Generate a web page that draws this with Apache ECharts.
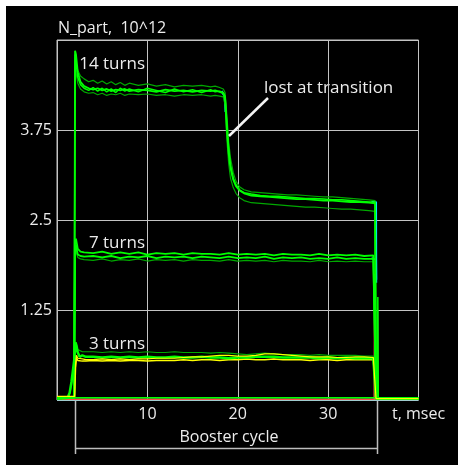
<!DOCTYPE html>
<html>
<head>
<meta charset="utf-8">
<script src="https://cdn.jsdelivr.net/npm/echarts@6/dist/echarts.min.js"></script>
<style>
  html, body { margin: 0; padding: 0; background: #ffffff; }
  #chart { position: absolute; left: 6px; top: 6px; width: 452px; height: 459px; }
</style>
</head>
<body>
<div id="chart"></div>
<script>
// Beam intensity during the Booster cycle, N_part in units of 10^12, time in msec

const xTicks = [10, 20, 30];
const yTicks = [1.25, 2.5, 3.75];

// 14-turn injection: time base and four recorded traces
const t14 = [0, 1.9, 2.0, 2.1, 2.3, 2.6, 3.0, 3.5, 4.0, 4.5, 5.0, 5.5, 6.0, 6.5, 7.0, 7.5, 8.0, 9.0, 10, 11,
  12, 13, 14, 15, 16, 17, 17.5, 18, 18.4, 18.6, 18.8, 19.0, 19.2, 19.5, 19.8, 20.2, 20.7, 21.5, 22.5, 23.5,
  24.5, 25.5, 26.5, 27.5, 28.5, 29.5, 30.5, 31.5, 32.5, 33.5, 34.5, 35.2, 35.3, 40];
const n14a = [0.02, 0.03, 4.85, 4.80, 4.55, 4.42, 4.36, 4.33, 4.31, 4.33, 4.30, 4.32, 4.29, 4.31, 4.30, 4.32, 4.29, 4.31, 4.30, 4.28,
  4.31, 4.29, 4.30, 4.28, 4.30, 4.29, 4.30, 4.28, 4.26, 4.18, 3.75, 3.42, 3.22, 3.06, 2.97, 2.91, 2.87, 2.84, 2.83, 2.82,
  2.81, 2.80, 2.79, 2.79, 2.78, 2.77, 2.77, 2.76, 2.75, 2.75, 2.74, 2.73, 0.02, 0.02];
const n14b = [0.02, 0.03, 4.72, 4.68, 4.58, 4.50, 4.46, 4.42, 4.44, 4.40, 4.43, 4.39, 4.42, 4.38, 4.41, 4.37, 4.40, 4.37, 4.39, 4.36,
  4.38, 4.35, 4.37, 4.36, 4.37, 4.35, 4.36, 4.34, 4.32, 4.27, 3.95, 3.58, 3.36, 3.16, 3.04, 2.96, 2.92, 2.89, 2.88, 2.87,
  2.86, 2.85, 2.85, 2.84, 2.83, 2.82, 2.82, 2.81, 2.80, 2.79, 2.78, 2.77, 0.02, 0.02];
const n14c = [0.02, 0.03, 4.62, 4.55, 4.40, 4.32, 4.28, 4.26, 4.27, 4.24, 4.26, 4.23, 4.25, 4.24, 4.26, 4.23, 4.25, 4.24, 4.25, 4.23,
  4.24, 4.22, 4.24, 4.23, 4.24, 4.22, 4.23, 4.22, 4.21, 4.10, 3.62, 3.28, 3.08, 2.95, 2.87, 2.81, 2.77, 2.74, 2.73, 2.72,
  2.71, 2.70, 2.69, 2.68, 2.68, 2.67, 2.66, 2.65, 2.65, 2.64, 2.63, 2.62, 0.02, 0.02];
const n14d = [0.02, 0.03, 4.80, 4.70, 4.48, 4.38, 4.33, 4.30, 4.34, 4.29, 4.33, 4.28, 4.32, 4.27, 4.33, 4.29, 4.32, 4.28, 4.33, 4.30,
  4.27, 4.32, 4.28, 4.31, 4.27, 4.31, 4.28, 4.29, 4.27, 4.22, 3.85, 3.48, 3.26, 3.08, 2.99, 2.92, 2.88, 2.86, 2.84, 2.83,
  2.83, 2.82, 2.81, 2.80, 2.80, 2.79, 2.78, 2.78, 2.77, 2.76, 2.75, 2.75, 0.02, 0.02];

// 7-turn injection
const t7 = [0, 1.9, 2.0, 2.1, 2.3, 2.6, 3, 4, 5, 6, 7, 8, 9, 10, 11, 12, 13, 14, 15, 16,
  17, 18, 19, 20, 21, 22, 23, 24, 25, 26, 27, 28, 29, 30, 31, 32, 33, 34, 35, 35.3, 40];
const n7a = [0.02, 0.03, 2.20, 2.24, 2.10, 2.06, 2.05, 2.04, 2.06, 2.03, 2.05, 2.03, 2.05, 2.02, 2.04, 2.03, 2.04, 2.02, 2.04, 2.03,
  2.03, 2.02, 2.04, 2.02, 2.03, 2.02, 2.03, 2.01, 2.03, 2.02, 2.02, 2.01, 2.03, 2.01, 2.02, 2.01, 2.02, 2.00, 2.01, 0.02, 0.02];
const n7b = [0.02, 0.03, 2.05, 2.15, 2.02, 2.00, 1.99, 2.00, 1.98, 2.00, 1.97, 1.99, 1.98, 2.00, 1.97, 1.99, 1.98, 1.99, 1.97, 1.99,
  1.98, 1.97, 1.99, 1.97, 1.98, 1.97, 1.99, 1.96, 1.98, 1.97, 1.98, 1.96, 1.97, 1.96, 1.98, 1.96, 1.97, 1.96, 1.96, 0.02, 0.02];
const n7c = [0.02, 0.03, 1.95, 2.08, 1.98, 1.96, 1.95, 1.94, 1.96, 1.93, 1.95, 1.94, 1.96, 1.93, 1.95, 1.94, 1.95, 1.93, 1.95, 1.94,
  1.94, 1.93, 1.95, 1.93, 1.94, 1.93, 1.94, 1.92, 1.94, 1.93, 1.93, 1.92, 1.94, 1.92, 1.93, 1.92, 1.93, 1.92, 1.92, 0.02, 0.02];

// 3-turn injection
const t3 = [0, 1.2, 1.4, 1.6, 1.8, 1.95, 2.05, 2.15, 2.3, 2.5, 2.8, 3.2, 4, 5, 6, 7, 8, 9, 10, 11,
  12, 13, 14, 15, 16, 17, 18, 19, 20, 21, 22, 23, 24, 25, 26, 27, 28, 29, 30, 31, 32, 33, 34, 35, 35.3, 40];
const n3a = [0.03, 0.04, 0.10, 0.25, 0.45, 0.60, 0.80, 0.76, 0.66, 0.60, 0.62, 0.60, 0.60, 0.59, 0.60, 0.59, 0.60, 0.59, 0.60, 0.59,
  0.59, 0.60, 0.59, 0.59, 0.60, 0.59, 0.59, 0.58, 0.59, 0.59, 0.60, 0.60, 0.60, 0.59, 0.59, 0.59, 0.59, 0.58, 0.59, 0.58,
  0.59, 0.58, 0.58, 0.58, 0.02, 0.02];
const n3b = [0.03, 0.04, 0.08, 0.20, 0.40, 0.55, 0.72, 0.74, 0.70, 0.68, 0.67, 0.67, 0.67, 0.66, 0.67, 0.66, 0.67, 0.66, 0.67, 0.66,
  0.66, 0.67, 0.66, 0.66, 0.66, 0.65, 0.66, 0.65, 0.64, 0.63, 0.64, 0.65, 0.64, 0.63, 0.63, 0.63, 0.62, 0.63, 0.62, 0.62,
  0.62, 0.62, 0.61, 0.61, 0.02, 0.02];
const n3c = [0.05, 0.05, 0.05, 0.05, 0.05, 0.05, 0.50, 0.62, 0.58, 0.56, 0.57, 0.56, 0.56, 0.57, 0.56, 0.57, 0.56, 0.57, 0.57, 0.58,
  0.58, 0.58, 0.59, 0.60, 0.60, 0.61, 0.62, 0.62, 0.61, 0.61, 0.62, 0.64, 0.64, 0.63, 0.62, 0.61, 0.60, 0.60, 0.60, 0.59,
  0.59, 0.60, 0.60, 0.59, 0.02, 0.02];
const n3d = [0.04, 0.04, 0.04, 0.04, 0.04, 0.04, 0.45, 0.58, 0.55, 0.54, 0.54, 0.54, 0.55, 0.54, 0.55, 0.54, 0.55, 0.55, 0.54, 0.55,
  0.55, 0.55, 0.56, 0.55, 0.56, 0.56, 0.55, 0.56, 0.56, 0.57, 0.56, 0.56, 0.57, 0.56, 0.56, 0.56, 0.55, 0.56, 0.56, 0.55,
  0.56, 0.56, 0.56, 0.56, 0.02, 0.02];

// Zero-level traces and the extraction kicks at the end of the cycle
const tBase = [0, 2.0, 35.1, 35.15, 35.2, 35.45, 35.5, 35.55, 40];
const nBaseGreen = [0.03, 0.03, 0.03, 0.03, 0.03, 0.03, 1.43, 0.03, 0.03];
const nBaseRed = [0.012, 0.012, 0.012, 1.75, 0.012, 0.012, 0.012, 0.012, 0.012];
const nBaseCyan = [0.008, 0.008, 0.008, 0.008, 0.008, 0.008, 0.008, 0.008, 0.008];

// Short cyan segments at the transition and at extraction
const tCyanTr = [18.2, 18.4, 18.55, 18.65];
const nCyanTr = [4.29, 4.31, 4.22, 4.00];
const tCyanEnd = [34.8, 35.3, 35.32];
const nCyanEnd14 = [2.75, 2.75, 1.67];
const nCyanEnd7 = [1.97, 1.95, 1.63];

const pairs = (t, v) => t.map((x, i) => [x, v[i]]);

const GREEN = '#00ff00';
const DARK = '#00a800';
const YELLOW = '#ffff00';
const CYAN = '#00e8ff';
const RED = '#ff4a4a';

function trace(t, v, color, width, z) {
  return {
    type: 'line', data: pairs(t, v), showSymbol: false, symbol: 'none',
    lineStyle: { color: color, width: width }, z: z, silent: true, animation: false
  };
}

const series = [
  trace(tBase, nBaseCyan, CYAN, 1.5, 1),
  trace(tBase, nBaseRed, RED, 1.5, 1),
  trace(tCyanTr, nCyanTr, CYAN, 2, 1),
  trace(tCyanEnd, nCyanEnd14, CYAN, 2, 1),
  trace(tCyanEnd, nCyanEnd7, CYAN, 2, 1),
  trace(t3, n3d, YELLOW, 1.5, 2),
  trace(t3, n3b, DARK, 1.2, 2),
  trace(t3, n3a, GREEN, 2.5, 3),
  trace(t3, n3c, YELLOW, 1.2, 4),
  trace(t7, n7c, DARK, 1.2, 2),
  trace(t7, n7b, GREEN, 1.8, 3),
  trace(t7, n7a, GREEN, 1.8, 3),
  trace(t14, n14b, DARK, 1.2, 2),
  trace(t14, n14c, DARK, 1.2, 2),
  trace(t14, n14d, GREEN, 1.5, 3),
  trace(t14, n14a, GREEN, 1.8, 3),
  trace(tBase, nBaseGreen, GREEN, 1.5, 3)
];

const TXT = '#ececec';
const FONT = '"Open Sans", "Noto Sans", sans-serif';

const chart = echarts.init(document.getElementById('chart'), null, { renderer: 'canvas' });
chart.setOption({
  backgroundColor: '#000000',
  animation: false,
  grid: {
    left: 51, top: 34, right: 39.5, bottom: 65,
    show: true, borderColor: '#c4c4c4', borderWidth: 1, backgroundColor: 'transparent'
  },
  xAxis: {
    type: 'value', min: 0, max: 40, interval: 10,
    axisLine: { show: false }, axisTick: { show: false },
    splitLine: { show: true, lineStyle: { color: '#c4c4c4', width: 1 } },
    axisLabel: {
      color: TXT, fontSize: 16, fontFamily: FONT, margin: 6,
      formatter: v => (xTicks.indexOf(v) >= 0 ? String(v) : '')
    }
  },
  yAxis: {
    type: 'value', min: 0, max: 5, interval: 1.25,
    axisLine: { show: false }, axisTick: { show: false },
    splitLine: { show: true, lineStyle: { color: '#c4c4c4', width: 1 } },
    axisLabel: {
      color: TXT, fontSize: 16, fontFamily: FONT, margin: 5,
      formatter: v => (yTicks.indexOf(v) >= 0 ? String(v) : '')
    }
  },
  graphic: [
    { type: 'text', left: 52, top: 14, style: { text: 'N_part,  10^12', fill: TXT, font: '16px ' + FONT } },
    { type: 'text', x: 139, y: 58, style: { text: '14 turns', fill: TXT, font: '17px ' + FONT, align: 'right', verticalAlign: 'middle' } },
    { type: 'text', x: 139, y: 237, style: { text: '7 turns', fill: TXT, font: '17px ' + FONT, align: 'right', verticalAlign: 'middle' } },
    { type: 'text', x: 139, y: 338, style: { text: '3 turns', fill: TXT, font: '17px ' + FONT, align: 'right', verticalAlign: 'middle' } },
    { type: 'text', x: 258, y: 82, style: { text: 'lost at transition', fill: TXT, font: '17px ' + FONT, align: 'left', verticalAlign: 'middle' } },
    { type: 'line', shape: { x1: 262, y1: 92, x2: 223, y2: 130 }, style: { stroke: '#f4f4f4', lineWidth: 2.5 }, z: 10 },
    { type: 'text', x: 386, y: 408, style: { text: 't, msec', fill: TXT, font: '16px ' + FONT, align: 'left', verticalAlign: 'middle' } },
    { type: 'text', x: 223, y: 431, style: { text: 'Booster cycle', fill: TXT, font: '16px ' + FONT, align: 'center', verticalAlign: 'middle' } },
    { type: 'line', shape: { x1: 69.5, y1: 394, x2: 69.5, y2: 448 }, style: { stroke: '#bdbdbd', lineWidth: 1.5 } },
    { type: 'line', shape: { x1: 371.5, y1: 304, x2: 371.5, y2: 448 }, style: { stroke: '#bdbdbd', lineWidth: 1.5 } },
    { type: 'line', shape: { x1: 69.5, y1: 442.5, x2: 371.5, y2: 442.5 }, style: { stroke: '#bdbdbd', lineWidth: 1.5 } }
  ],
  series: series
});
</script>
</body>
</html>
